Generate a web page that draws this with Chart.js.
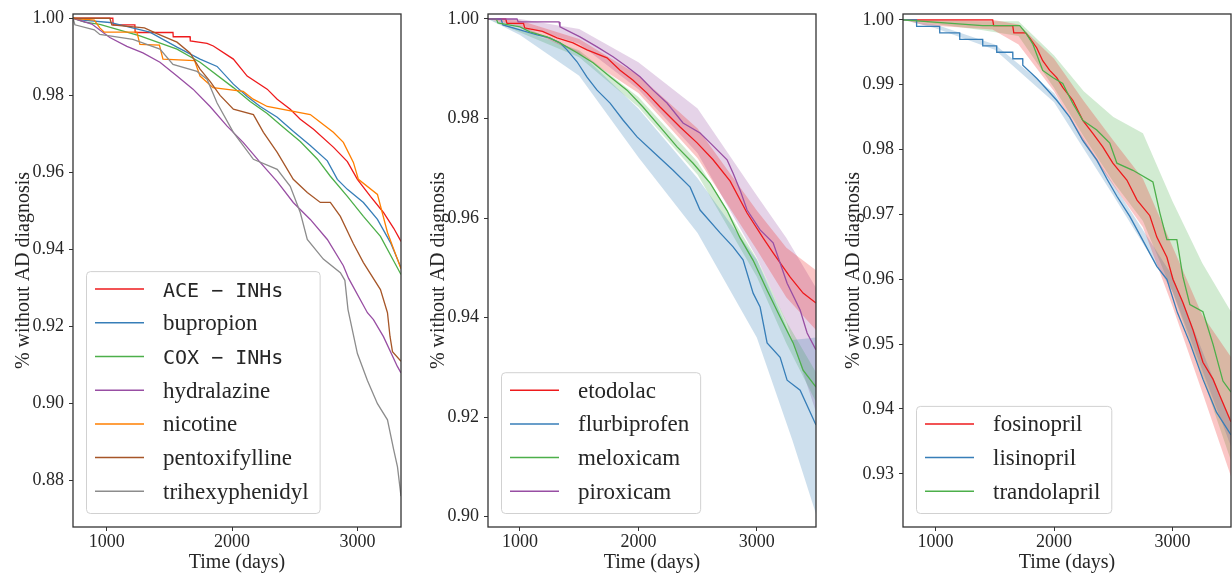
<!DOCTYPE html>
<html>
<head>
<meta charset="utf-8">
<script src="https://cdn.jsdelivr.net/npm/chart.js@4.4.0/dist/chart.umd.min.js"></script>
<style>
  html, body { margin: 0; padding: 0; background: #fff; }
  #wrap { position: relative; width: 1232px; height: 573px; }
  canvas { position: absolute; top: 0; }
</style>
</head>
<body>
<div id="wrap">
  <canvas id="left" width="402" height="573" style="left:0px"></canvas>
  <canvas id="middle" width="402" height="573" style="left:415px"></canvas>
  <canvas id="right" width="402" height="573" style="left:830px"></canvas>
</div>
<script>
// tick labels
var xTicks = [1000, 2000, 3000];
var leftTicks = [0.88, 0.90, 0.92, 0.94, 0.96, 0.98, 1.00];
var middleTicks = [0.90, 0.92, 0.94, 0.96, 0.98, 1.00];
var rightTicks = [0.93, 0.94, 0.95, 0.96, 0.97, 0.98, 0.99, 1.00];

// left panel
var aceDays = [730, 1048, 1050, 1224, 1226, 1528, 1530, 1664, 1666, 1800, 1850, 2010, 2120, 2280, 2360, 2464, 2544, 2650, 2810, 2920, 3000, 3104, 3208, 3290, 3348];
var aceSurv = [1.0, 1.0, 0.9983, 0.9983, 0.9963, 0.9963, 0.9952, 0.9952, 0.9941, 0.9935, 0.9928, 0.9894, 0.985, 0.9816, 0.979, 0.9764, 0.9738, 0.9712, 0.9665, 0.9628, 0.9582, 0.9538, 0.9496, 0.9455, 0.9421];
var bupropionDays = [730, 808, 1024, 1344, 1560, 1744, 1880, 2010, 2120, 2224, 2360, 2490, 2624, 2760, 2840, 2920, 3048, 3160, 3264, 3348];
var bupropionSurv = [1.0, 0.9995, 0.9989, 0.9964, 0.9925, 0.9894, 0.9875, 0.9829, 0.9797, 0.9771, 0.9743, 0.9706, 0.967, 0.963, 0.9582, 0.9556, 0.9522, 0.9478, 0.9418, 0.9353];
var coxDays = [730, 824, 944, 1264, 1560, 1744, 2010, 2144, 2280, 2408, 2544, 2680, 2784, 2920, 3048, 3184, 3348];
var coxSurv = [1.0, 0.999, 0.9984, 0.9954, 0.992, 0.9886, 0.982, 0.9784, 0.9753, 0.9717, 0.968, 0.9635, 0.959, 0.9538, 0.9486, 0.9434, 0.9335];
var hydralazineDays = [730, 880, 1024, 1160, 1288, 1424, 1560, 1688, 1824, 1960, 2088, 2224, 2360, 2488, 2624, 2760, 2888, 2930, 3080, 3128, 3208, 3320, 3348];
var hydralazineSurv = [1.0, 0.9985, 0.995, 0.9927, 0.991, 0.9886, 0.985, 0.9816, 0.9771, 0.972, 0.9678, 0.9626, 0.9576, 0.9522, 0.9478, 0.9426, 0.9358, 0.9325, 0.9236, 0.9218, 0.9174, 0.9096, 0.908];
var nicotineDays = [730, 900, 944, 980, 1240, 1264, 1420, 1448, 1700, 1744, 1848, 2088, 2168, 2280, 2624, 2704, 2808, 2888, 2968, 3008, 3160, 3240, 3348];
var nicotineSurv = [1.0, 0.9995, 0.9975, 0.9964, 0.9964, 0.9932, 0.993, 0.9894, 0.989, 0.985, 0.982, 0.981, 0.979, 0.9771, 0.975, 0.973, 0.9704, 0.9678, 0.9626, 0.9582, 0.9543, 0.9444, 0.935];
var pentoxDays = [730, 1024, 1040, 1300, 1400, 1560, 1664, 1744, 1824, 1904, 2010, 2170, 2250, 2360, 2488, 2600, 2704, 2784, 2864, 2968, 3048, 3184, 3240, 3260, 3280, 3348];
var pentoxSurv = [1.0, 1.0, 0.9983, 0.9975, 0.996, 0.9938, 0.991, 0.9868, 0.9836, 0.98, 0.9764, 0.975, 0.9704, 0.9652, 0.9582, 0.9548, 0.9522, 0.9522, 0.9486, 0.9415, 0.9366, 0.9296, 0.9236, 0.9175, 0.9135, 0.911];
var trihexDays = [730, 745, 900, 944, 1208, 1424, 1528, 1720, 1800, 1880, 2010, 2170, 2360, 2464, 2544, 2600, 2728, 2864, 2900, 2925, 3000, 3080, 3160, 3240, 3290, 3320, 3348];
var trihexSurv = [1.0, 0.9983, 0.997, 0.9958, 0.9945, 0.992, 0.988, 0.9862, 0.9842, 0.978, 0.9704, 0.9634, 0.9608, 0.9564, 0.9496, 0.9426, 0.9375, 0.934, 0.932, 0.9244, 0.913, 0.906, 0.900, 0.8958, 0.888, 0.8836, 0.876];

// middle panel
var etodolacDays = [730, 880, 890, 1030, 1040, 1190, 1313, 1448, 1566, 1735, 1845, 1955, 2073, 2183, 2352, 2496, 2631, 2775, 2918, 3053, 3138, 3282, 3391, 3500];
var etodolacSurv = [1.0, 1.0, 0.9991, 0.9991, 0.9982, 0.9975, 0.9962, 0.9952, 0.9938, 0.9922, 0.9897, 0.9877, 0.9851, 0.9823, 0.9783, 0.9751, 0.9717, 0.9674, 0.961, 0.956, 0.953, 0.9481, 0.9449, 0.9429];
var etodolacBandDays = [730, 1000, 1500, 2000, 2500, 3000, 3250, 3500];
var etodolacUpper = [1.0, 0.9997, 0.996, 0.9887, 0.978, 0.9615, 0.954, 0.9495];
var etodolacLower = [1.0, 0.9985, 0.993, 0.9851, 0.972, 0.9536, 0.944, 0.9375];
var flurbiDays = [730, 840, 856, 1000, 1144, 1250, 1338, 1397, 1482, 1566, 1651, 1761, 1870, 1989, 2124, 2293, 2437, 2521, 2690, 2800, 2884, 2969, 3028, 3087, 3197, 3256, 3366, 3500];
var flurbiSurv = [1.0, 1.0, 0.9988, 0.9978, 0.9968, 0.9962, 0.9952, 0.9938, 0.9914, 0.9883, 0.9857, 0.9831, 0.9797, 0.9763, 0.9733, 0.9696, 0.9662, 0.9616, 0.957, 0.9542, 0.9516, 0.9449, 0.9421, 0.9349, 0.932, 0.9274, 0.9254, 0.9184];
var flurbiBandDays = [730, 1000, 1500, 2000, 2500, 3000, 3300, 3500];
var flurbiUpper = [1.0, 0.9988, 0.9934, 0.982, 0.968, 0.9516, 0.9355, 0.936];
var flurbiLower = [1.0, 0.9968, 0.9886, 0.9722, 0.957, 0.936, 0.9154, 0.9005];
var meloxDays = [730, 800, 814, 1000, 1084, 1228, 1338, 1482, 1617, 1761, 1904, 2039, 2183, 2327, 2462, 2606, 2749, 2859, 2969, 3087, 3197, 3307, 3391, 3500];
var meloxSurv = [1.0, 1.0, 0.9992, 0.9984, 0.9974, 0.9964, 0.9952, 0.9932, 0.9912, 0.9884, 0.9857, 0.9823, 0.9783, 0.9743, 0.971, 0.967, 0.9615, 0.956, 0.9515, 0.9455, 0.9401, 0.9349, 0.9294, 0.926];
var meloxBandDays = [730, 1500, 2000, 2500, 3000, 3250, 3500];
var meloxUpper = [1.0, 0.9937, 0.9843, 0.9713, 0.9518, 0.9392, 0.929];
var meloxLower = [1.0, 0.9923, 0.9823, 0.9687, 0.9482, 0.9348, 0.923];
var piroxDays = [730, 975, 985, 1330, 1338, 1507, 1651, 1786, 1904, 2014, 2124, 2242, 2377, 2521, 2606, 2749, 2800, 2859, 2918, 3028, 3138, 3256, 3366, 3425, 3500];
var piroxSurv = [1.0, 1.0, 0.9994, 0.9994, 0.9984, 0.9964, 0.9944, 0.9924, 0.9904, 0.9884, 0.9857, 0.9831, 0.9791, 0.9771, 0.9751, 0.9717, 0.969, 0.9656, 0.9616, 0.9576, 0.955, 0.9469, 0.9415, 0.9369, 0.9335];
var piroxBandDays = [730, 1000, 1500, 2000, 2500, 3000, 3250, 3500];
var piroxUpper = [1.0, 1.0, 0.998, 0.9913, 0.982, 0.9645, 0.956, 0.946];
var piroxLower = [1.0, 0.9988, 0.995, 0.9859, 0.973, 0.952, 0.939, 0.921];

// right panel
var fosinoDays = [725, 1482, 1490, 1651, 1660, 1760, 1794, 1853, 1904, 1963, 2022, 2073, 2158, 2242, 2327, 2411, 2496, 2614, 2700, 2808, 2867, 2952, 3003, 3087, 3172, 3256, 3341, 3400, 3493];
var fosinoSurv = [1.0, 1.0, 0.9991, 0.9991, 0.998, 0.998, 0.9972, 0.9957, 0.9937, 0.9922, 0.9911, 0.9896, 0.9876, 0.9845, 0.9825, 0.9804, 0.9779, 0.9753, 0.9722, 0.9698, 0.9665, 0.9634, 0.960, 0.9564, 0.9522, 0.9472, 0.9446, 0.942, 0.938];
var fosinoBandDays = [725, 900, 1480, 1700, 2000, 2250, 2500, 2750, 3000, 3250, 3493];
var fosinoUpper = [1.0, 1.0, 1.0, 0.9993, 0.994, 0.9875, 0.9814, 0.9755, 0.965, 0.9545, 0.948];
var fosinoLower = [1.0, 0.9992, 0.9985, 0.9962, 0.989, 0.981, 0.9745, 0.968, 0.9558, 0.9426, 0.9296];
var lisinoDays = [725, 839, 840, 1034, 1035, 1203, 1204, 1397, 1398, 1515, 1516, 1651, 1652, 1735, 1736, 1853, 1904, 2022, 2132, 2242, 2360, 2445, 2530, 2639, 2749, 2867, 2952, 3040, 3150, 3256, 3370, 3493];
var lisinoSurv = [1.0, 1.0, 0.999, 0.999, 0.998, 0.998, 0.997, 0.997, 0.996, 0.996, 0.995, 0.995, 0.994, 0.994, 0.993, 0.991, 0.990, 0.9876, 0.985, 0.9814, 0.9784, 0.9755, 0.9728, 0.9697, 0.966, 0.962, 0.960, 0.9549, 0.950, 0.9446, 0.9395, 0.936];
var lisinoBandDays = [725, 1000, 1500, 2000, 2500, 3000, 3493];
var lisinoUpper = [1.0, 0.9993, 0.9962, 0.9887, 0.9747, 0.9605, 0.9378];
var lisinoLower = [1.0, 0.9987, 0.9954, 0.9873, 0.9729, 0.9581, 0.9342];
var trandoDays = [725, 1397, 1710, 1769, 1820, 1904, 1989, 2073, 2158, 2242, 2360, 2470, 2530, 2665, 2834, 2893, 2952, 3036, 3087, 3146, 3256, 3341, 3425, 3493];
var trandoSurv = [1.0, 0.9991, 0.9991, 0.9978, 0.9963, 0.9922, 0.9911, 0.9902, 0.9871, 0.9845, 0.983, 0.981, 0.9779, 0.9768, 0.975, 0.9702, 0.9661, 0.9661, 0.9604, 0.9561, 0.955, 0.950, 0.9443, 0.9426];
var trandoBandDays = [725, 1400, 1700, 2000, 2250, 2500, 2750, 3000, 3250, 3493];
var trandoUpper = [1.0, 0.9998, 0.9998, 0.9945, 0.989, 0.985, 0.9825, 0.972, 0.9625, 0.955];
var trandoLower = [1.0, 0.9984, 0.9975, 0.9895, 0.982, 0.975, 0.969, 0.958, 0.945, 0.932];

var RED = '#ee1a1c', BLUE = '#377eb8', GREEN = '#4daf4a', PURPLE = '#984ea3',
    ORANGE = '#ff7f00', BROWN = '#a65628', GREY = '#8c8c8c';

var SERIF = "'Liberation Serif', 'DejaVu Serif', serif";
var MONO = "'DejaVu Sans Mono', 'Liberation Mono', monospace";

Chart.defaults.font.family = SERIF;
Chart.defaults.color = '#262626';

function rgba(hex, a) {
    var n = parseInt(hex.slice(1), 16);
    return 'rgba(' + (n >> 16) + ',' + ((n >> 8) & 255) + ',' + (n & 255) + ',' + a + ')';
}

function points(days, vals) {
    return days.map((d, i) => ({x: d, y: vals[i]}));
}

// legend box drawn inside the plot, lower left
var boxLegend = {
    id: 'boxLegend',
    afterDatasetsDraw(chart, args, opts) {
        var ctx = chart.ctx;
        var items = opts.items;
        var pitch = 33.7;
        var fontOf = (label) => label.indexOf('INHs') >= 0 ? '20px ' + MONO : '23px ' + SERIF;
        ctx.save();
        var maxw = 0;
        items.forEach(it => {
            ctx.font = fontOf(it.label);
            maxw = Math.max(maxw, ctx.measureText(it.label).width);
        });
        var x = opts.x;
        var bottom = chart.chartArea.bottom - 14;
        var h = items.length * pitch + 6;
        var top = bottom - h;
        var w = 77 + maxw + 11;
        ctx.beginPath();
        ctx.roundRect(x + 0.5, top + 0.5, w, h, 4);
        ctx.fillStyle = 'rgba(255,255,255,0.8)';
        ctx.fill();
        ctx.strokeStyle = 'rgba(204,204,204,0.9)';
        ctx.lineWidth = 1;
        ctx.stroke();
        items.forEach((it, i) => {
            var y = top + 18 + i * pitch;
            ctx.beginPath();
            ctx.moveTo(x + 9, y);
            ctx.lineTo(x + 58, y);
            ctx.strokeStyle = it.color;
            ctx.lineWidth = 1.5;
            ctx.stroke();
            ctx.font = fontOf(it.label);
            ctx.fillStyle = '#262626';
            ctx.textBaseline = 'alphabetic';
            ctx.fillText(it.label, x + 77, y + 7.5);
        });
        ctx.restore();
    }
};

// all four spines
var frame = {
    id: 'frame',
    afterDraw(chart) {
        var ctx = chart.ctx, a = chart.chartArea;
        ctx.save();
        ctx.strokeStyle = '#333';
        ctx.lineWidth = 1.3;
        ctx.strokeRect(a.left, a.top, a.right - a.left, a.bottom - a.top);
        ctx.restore();
    }
};

function makePanel(id, xMin, xMax, yMin, yMax, yTicks, series, bands) {
    var datasets = [];
    bands.forEach(b => {
        datasets.push({
            data: points(b.days, b.upper), borderColor: 'rgba(0,0,0,0)', borderWidth: 0,
            pointRadius: 0, backgroundColor: rgba(b.color, 0.25), fill: '+1', order: 100
        });
        datasets.push({
            data: points(b.days, b.lower), borderColor: 'rgba(0,0,0,0)', borderWidth: 0,
            pointRadius: 0, fill: false, order: 100
        });
    });
    series.forEach((s, i) => {
        datasets.push({
            label: s.label, data: points(s.days, s.surv), borderColor: s.color,
            borderWidth: 1.3, pointRadius: 0, fill: false, tension: 0, order: series.length - i
        });
    });

    var gridOpts = { display: true, drawOnChartArea: false, drawTicks: true, tickLength: 4, color: '#333', lineWidth: 1 };

    return new Chart(document.getElementById(id), {
        type: 'line',
        data: { datasets: datasets },
        options: {
            responsive: false,
            animation: false,
            devicePixelRatio: 1,
            layout: { padding: { top: 14, right: 1, left: 0, bottom: 0 } },
            plugins: {
                legend: { display: false },
                tooltip: { enabled: false },
                boxLegend: { x: 86, items: series.map(s => ({ label: s.label, color: s.color })) }
            },
            scales: {
                x: {
                    type: 'linear', min: xMin, max: xMax,
                    afterBuildTicks: sc => { sc.ticks = xTicks.map(v => ({ value: v })); },
                    afterFit: sc => { sc.height = 46; sc.paddingLeft = 0; sc.paddingRight = 0; },
                    grid: gridOpts,
                    border: { display: false },
                    ticks: { font: { size: 18 }, padding: 0, maxRotation: 0, callback: v => String(v) },
                    title: { display: true, text: 'Time (days)', font: { size: 20 }, padding: { top: 0, bottom: -2 } }
                },
                y: {
                    type: 'linear', min: yMin, max: yMax,
                    afterBuildTicks: sc => { sc.ticks = yTicks.map(v => ({ value: v })); },
                    afterFit: sc => { sc.width = 73; sc.paddingTop = 0; sc.paddingBottom = 0; },
                    grid: gridOpts,
                    border: { display: false },
                    ticks: { font: { size: 18 }, padding: 5, callback: v => v.toFixed(2) },
                    title: { display: true, text: '% without AD diagnosis', font: { size: 20 }, padding: { top: 12, bottom: 0 } }
                }
            }
        },
        plugins: [boxLegend, frame]
    });
}

makePanel('left', 730, 3348, 0.868, 1.0011, leftTicks, [
    { label: 'ACE − INHs', color: RED, days: aceDays, surv: aceSurv },
    { label: 'bupropion', color: BLUE, days: bupropionDays, surv: bupropionSurv },
    { label: 'COX − INHs', color: GREEN, days: coxDays, surv: coxSurv },
    { label: 'hydralazine', color: PURPLE, days: hydralazineDays, surv: hydralazineSurv },
    { label: 'nicotine', color: ORANGE, days: nicotineDays, surv: nicotineSurv },
    { label: 'pentoxifylline', color: BROWN, days: pentoxDays, surv: pentoxSurv },
    { label: 'trihexyphenidyl', color: GREY, days: trihexDays, surv: trihexSurv }
], []);

makePanel('middle', 730, 3500, 0.8979, 1.001, middleTicks, [
    { label: 'etodolac', color: RED, days: etodolacDays, surv: etodolacSurv },
    { label: 'flurbiprofen', color: BLUE, days: flurbiDays, surv: flurbiSurv },
    { label: 'meloxicam', color: GREEN, days: meloxDays, surv: meloxSurv },
    { label: 'piroxicam', color: PURPLE, days: piroxDays, surv: piroxSurv }
], [
    { color: RED, days: etodolacBandDays, upper: etodolacUpper, lower: etodolacLower },
    { color: BLUE, days: flurbiBandDays, upper: flurbiUpper, lower: flurbiLower },
    { color: GREEN, days: meloxBandDays, upper: meloxUpper, lower: meloxLower },
    { color: PURPLE, days: piroxBandDays, upper: piroxUpper, lower: piroxLower }
]);

makePanel('right', 725, 3493, 0.9218, 1.0009, rightTicks, [
    { label: 'fosinopril', color: RED, days: fosinoDays, surv: fosinoSurv },
    { label: 'lisinopril', color: BLUE, days: lisinoDays, surv: lisinoSurv },
    { label: 'trandolapril', color: GREEN, days: trandoDays, surv: trandoSurv }
], [
    { color: RED, days: fosinoBandDays, upper: fosinoUpper, lower: fosinoLower },
    { color: BLUE, days: lisinoBandDays, upper: lisinoUpper, lower: lisinoLower },
    { color: GREEN, days: trandoBandDays, upper: trandoUpper, lower: trandoLower }
]);
</script>
</body>
</html>
